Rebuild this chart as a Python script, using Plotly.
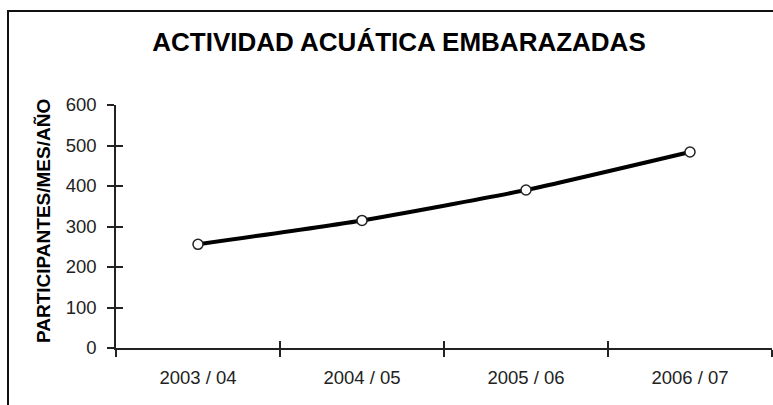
import plotly.graph_objects as go

categories = ["2003 / 04", "2004 / 05", "2005 / 06", "2006 / 07"]
participants = [256, 315, 390, 484]
y_ticks = [0, 100, 200, 300, 400, 500, 600]

title_text = "ACTIVIDAD ACUÁTICA EMBARAZADAS"
y_title = "PARTICIPANTES/MES/AÑO"

FONT = "Liberation Sans, Arial, sans-serif"
W, H = 773, 405
L, R, T, B = 116, 1, 105, 57

fig = go.Figure()
fig.add_trace(go.Scatter(
    x=categories, y=participants, mode="lines+markers",
    line=dict(color="#000000", width=4, shape="spline", smoothing=0.5),
    marker=dict(size=10, color="white", line=dict(color="#222222", width=1.5)),
    showlegend=False, hoverinfo="x+y",
))
# invisible trace to anchor overlay axes (inside tick halves)
fig.add_trace(go.Scatter(
    x=categories, y=[None] * len(categories), xaxis="x2", yaxis="y2",
    mode="lines", showlegend=False, hoverinfo="skip",
))

axis_color = "#222222"
fig.update_layout(
    width=W, height=H,
    margin=dict(l=L, r=R, t=T, b=B),
    paper_bgcolor="white", plot_bgcolor="white",
    font=dict(family=FONT, color="#222222"),
    title=dict(text=title_text, x=399 / W, xanchor="center",
               y=1 - 42 / H, yanchor="middle",
               font=dict(family=FONT, size=26, color="#000000", weight="bold")),
    xaxis=dict(type="category", range=[-0.5, len(categories) - 0.5],
               categoryarray=categories, categoryorder="array",
               tickson="boundaries", ticks="outside", ticklen=7, tickwidth=1.5,
               tickcolor=axis_color, showline=True, linecolor=axis_color,
               linewidth=1.5, showgrid=False, zeroline=False,
               tickfont=dict(size=18.5, color="#222222"), ticklabelstandoff=12),
    yaxis=dict(range=[0, 600], tickvals=y_ticks, ticks="outside", ticklen=7,
               tickwidth=1.5, tickcolor=axis_color, showline=True,
               linecolor=axis_color, linewidth=1.5, showgrid=False,
               zeroline=False, tickfont=dict(size=18.5, color="#222222"),
               ticklabelstandoff=7),
    xaxis2=dict(type="category", overlaying="x", anchor="y2",
                range=[-0.5, len(categories) - 0.5],
                categoryarray=categories, categoryorder="array",
                tickson="boundaries", ticks="inside", ticklen=7, tickwidth=1.5,
                tickcolor=axis_color, showticklabels=False, showline=False,
                showgrid=False, zeroline=False),
    yaxis2=dict(range=[0, 600], tickvals=y_ticks, overlaying="y", anchor="x2",
                side="left", ticks="inside", ticklen=7, tickwidth=1.5,
                tickcolor=axis_color, showticklabels=False, showline=False,
                showgrid=False, zeroline=False),
)

pw = W - L - R
ph = H - T - B
fig.add_annotation(
    text=y_title, textangle=-90, showarrow=False,
    xref="paper", yref="paper",
    x=(43 - L) / pw, y=(H - B - 221) / ph, xanchor="center", yanchor="middle",
    font=dict(family=FONT, size=19, color="#000000", weight="bold"),
)
# outer chart frame
fig.add_shape(
    type="rect", xref="paper", yref="paper",
    x0=(8 - L) / pw, x1=1.2, y0=-0.5, y1=(H - B - 11) / ph,
    line=dict(color="#111111", width=2), layer="below",
)

fig.write_html(
    "out.html",
    config={"displayModeBar": False},
    post_script="document.body.style.margin='0';document.body.style.overflow='hidden';",
)
